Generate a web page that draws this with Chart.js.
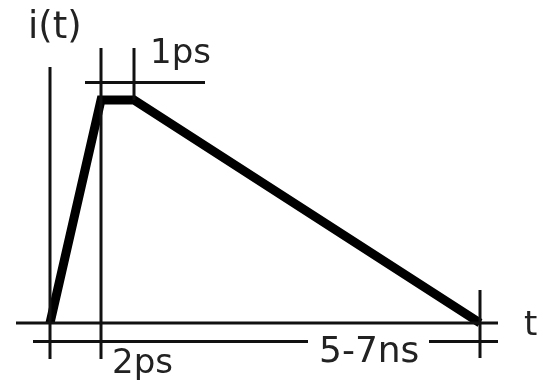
<!DOCTYPE html>
<html>
<head>
<meta charset="utf-8">
<title>i(t) pulse</title>
<script src="https://cdn.jsdelivr.net/npm/chart.js@4"></script>
<style>
  html, body { margin: 0; padding: 0; background: #ffffff; }
  #wrap { width: 537px; height: 383px; }
</style>
</head>
<body>
<div id="wrap"><canvas id="c" width="537" height="383"></canvas></div>
<script>
// Pulse shape in schematic units (time along x, current along y).
// Rise over 2 ps, flat top for 1 ps, then a slow 5-7 ns decay.
const pulseTime    = [0, 51, 84, 430];
const pulseCurrent = [0, 223, 223, 0];

// Time axis and current axis.
const timeAxisX    = [-34, 448];
const timeAxisY    = [0, 0];
const currentAxisX = [0, 0];
const currentAxisY = [-36, 256];

// Dimension markers: extension lines and the dimension lines between them.
const riseMarkX    = [51, 51];
const riseMarkY    = [-36, 275];
const flatMarkX    = [84, 84];
const flatMarkY    = [223, 275];
const endMarkX     = [430, 430];
const endMarkY     = [-35, 33];
const flatDimX     = [35, 155];
const flatDimY     = [240.5, 240.5];
const decayDimLeftX  = [-17, 258];
const decayDimRightX = [379, 448];
const decayDimY      = [-18.5, -18.5];

// Text labels and where they sit (left edge, baseline) in the same units.
const labelText = ['i(t)', '1ps', '2ps', '5-7ns', 't'];
const labelAt = [
  { x: -22, y: 285, size: 37 },
  { x: 100, y: 260, size: 34 },
  { x: 62,  y: -50, size: 34 },
  { x: 269, y: -39, size: 36 },
  { x: 474, y: -12, size: 34 }
];

function pts(xs, ys) { return xs.map((x, i) => ({ x: x, y: ys[i] })); }

function thin(xs, ys) {
  return {
    data: pts(xs, ys),
    borderColor: '#111111',
    borderWidth: 3,
    borderCapStyle: 'butt',
    pointRadius: 0,
    tension: 0,
    fill: false
  };
}

const labelPlugin = {
  id: 'labels',
  afterDatasetsDraw(chart) {
    const ctx = chart.ctx;
    const xs = chart.scales.x, ys = chart.scales.y;
    ctx.save();
    ctx.fillStyle = '#222222';
    ctx.textAlign = 'left';
    ctx.textBaseline = 'alphabetic';
    labelText.forEach((t, i) => {
      const a = labelAt[i];
      ctx.font = a.size + 'px "DejaVu Sans"';
      ctx.fillText(t, xs.getPixelForValue(a.x), ys.getPixelForValue(a.y));
    });
    ctx.restore();
  }
};

new Chart(document.getElementById('c'), {
  type: 'line',
  data: {
    datasets: [
      thin(currentAxisX, currentAxisY),
      thin(timeAxisX, timeAxisY),
      thin(riseMarkX, riseMarkY),
      thin(flatMarkX, flatMarkY),
      thin(endMarkX, endMarkY),
      thin(flatDimX, flatDimY),
      thin(decayDimLeftX, decayDimY),
      thin(decayDimRightX, decayDimY),
      {
        data: pts(pulseTime, pulseCurrent),
        borderColor: '#000000',
        borderWidth: 9,
        borderJoinStyle: 'miter',
        borderCapStyle: 'butt',
        pointRadius: 0,
        tension: 0,
        fill: false
      }
    ]
  },
  options: {
    responsive: false,
    animation: false,
    devicePixelRatio: 1,
    layout: { padding: 0 },
    plugins: { legend: { display: false }, tooltip: { enabled: false } },
    scales: {
      x: { type: 'linear', min: -50, max: 487, display: false },
      y: { type: 'linear', min: -60, max: 323, display: false }
    }
  },
  plugins: [labelPlugin]
});
</script>
</body>
</html>
